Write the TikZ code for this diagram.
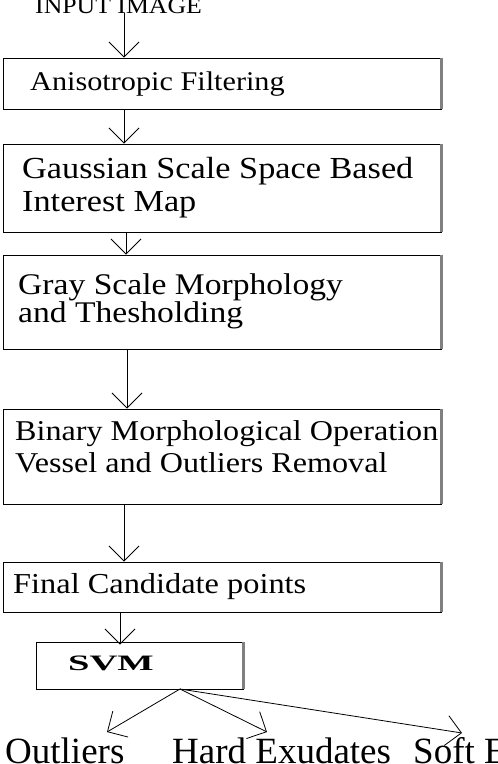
\documentclass[tikz,border=0pt]{standalone}
\usepackage{fontspec}
\setmainfont{Liberation Serif}
\newfontfamily\boxfont{Liberation Serif}[FakeStretch=1.12]
\newfontfamily\svmfont{Liberation Serif}[FakeStretch=1.75]
\usetikzlibrary{arrows.meta}
\begin{document}
\begin{tikzpicture}[x=1pt,y=-1pt,
  box/.style={draw=black,line width=1pt,inner sep=0pt},
  txt/.style={inner sep=0pt,anchor=base west,font=\boxfont\fontsize{29}{32}\selectfont},
  lab/.style={inner sep=0pt,anchor=base west,font=\fontsize{37}{40}\selectfont},
  arr/.style={line width=0.8pt,-{Straight Barb[length=15pt,width=30pt]}},
  shade/.style={draw=gray,line width=2.5pt}]
\useasboundingbox (0,0) rectangle (498,764);
\clip (0,0) rectangle (498,764);
% input label
\node[inner sep=0pt,anchor=base west,font=\boxfont\fontsize{23}{25}\selectfont] (in) at (35,13) {INPUT IMAGE};
% boxes
\node[box,minimum width=438pt,minimum height=51pt] (b1) at (222,83.5) {};
\node[box,minimum width=438pt,minimum height=88pt] (b2) at (222,188) {};
\node[box,minimum width=438pt,minimum height=94pt] (b3) at (222,302) {};
\node[box,minimum width=438pt,minimum height=95pt] (b4) at (222,456.5) {};
\node[box,minimum width=438pt,minimum height=50pt] (b5) at (222,587) {};
\node[box,minimum width=207pt,minimum height=47pt] (svm) at (139.5,665.5) {};
\foreach \b in {b1,b2,b3,b4,b5,svm}{
  \draw[shade] ([yshift=-0.5pt]\b.north east) -- ([yshift=0.5pt]\b.south east);
}
% texts
\node[txt,font=\boxfont\fontsize{27}{30}\selectfont] (t1) at (30,90) {Anisotropic Filtering};
\node[txt,font=\boxfont\fontsize{30.6}{33}\selectfont] (t2a) at (22,178) {Gaussian Scale Space Based};
\node[txt,font=\boxfont\fontsize{30.6}{33}\selectfont] (t2b) at (22,211) {Interest Map};
\node[txt,font=\boxfont\fontsize{30}{33}\selectfont] (t3a) at (18,294) {Gray Scale Morphology};
\node[txt,font=\boxfont\fontsize{30}{33}\selectfont] (t3b) at (18,322) {and Thesholding};
\node[txt,font=\boxfont\fontsize{28.7}{31}\selectfont] (t4a) at (15,440) {Binary Morphological Operation};
\node[txt,font=\boxfont\fontsize{28.7}{31}\selectfont] (t4b) at (15,472) {Vessel and Outliers Removal};
\node[txt,font=\boxfont\fontsize{28.9}{31}\selectfont] (t5) at (13,593) {Final Candidate points};
\node[inner sep=0pt,anchor=base west,font=\svmfont\bfseries\fontsize{22}{24}\selectfont] (t6) at (68,670) {SVM};
% outputs
\node[lab] (o1) at (5,763) {Outliers};
\node[lab] (o2) at (172,763) {Hard Exudates};
\node[lab] (o3) at (413,763) {Soft Exudates};
\coordinate (p1) at (107,732);
\coordinate (p2) at (267,732);
\coordinate (p3) at (462,733);
\coordinate (s0) at (180,689);
% arrows
\coordinate (x1) at (124,0);
\coordinate (x2) at (124,0);
\coordinate (x3) at (126,0);
\coordinate (x4) at (127,0);
\coordinate (x5) at (124,0);
\coordinate (x6) at (120,0);
\draw[arr] (in.base -| x1) -- (b1.north -| x1);
\draw[arr] (b1.south -| x2) -- (b2.north -| x2);
\draw[arr] (b2.south -| x3) -- (b3.north -| x3);
\draw[arr] (b3.south -| x4) -- (b4.north -| x4);
\draw[arr] (b4.south -| x5) -- (b5.north -| x5);
\draw[arr] (b5.south -| x6) -- ([yshift=-3pt]svm.north -| x6);
\draw[arr] (s0) -- (p1);
\draw[arr] (s0) -- (p2);
\draw[arr] (s0) -- (p3);
\end{tikzpicture}
\end{document}
